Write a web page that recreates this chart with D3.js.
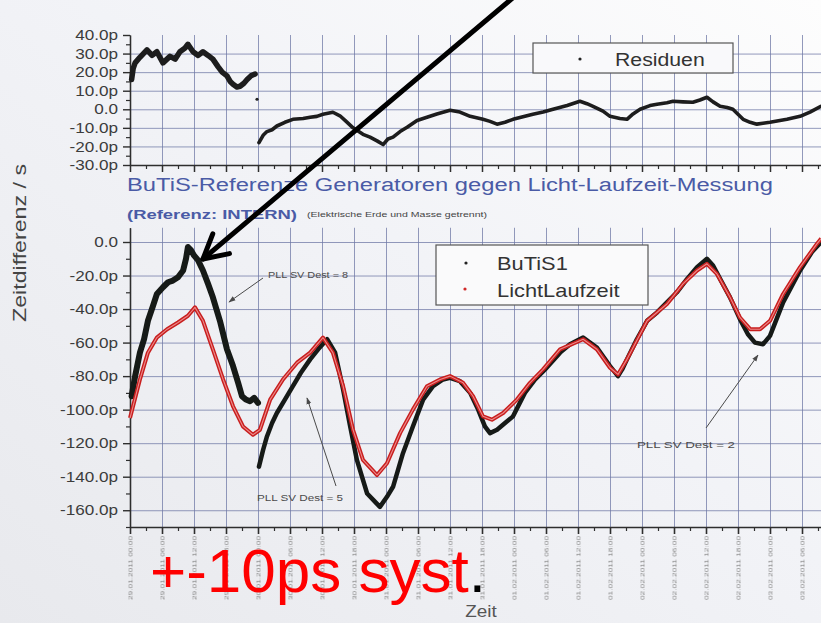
<!DOCTYPE html>
<html>
<head>
<meta charset="utf-8">
<script src="https://cdn.jsdelivr.net/npm/d3@7"></script>
<style>
  html, body { margin: 0; padding: 0; background: #fff; }
  svg { display: block; font-family: "Liberation Sans", Arial, sans-serif; }
</style>
</head>
<body>
<svg id="chart" width="821" height="623"></svg>
<script>
// ---- data (time in major grid divisions, values in ps) ----
const timeLabels = [
  "29.01.2011 00:00", "29.01.2011 06:00", "29.01.2011 12:00", "29.01.2011 18:00",
  "30.01.2011 00:00", "30.01.2011 06:00", "30.01.2011 12:00", "30.01.2011 18:00",
  "31.01.2011 00:00", "31.01.2011 06:00", "31.01.2011 12:00", "31.01.2011 18:00",
  "01.02.2011 00:00", "01.02.2011 06:00", "01.02.2011 12:00", "01.02.2011 18:00",
  "02.02.2011 00:00", "02.02.2011 06:00", "02.02.2011 12:00", "02.02.2011 18:00",
  "03.02.2011 00:00", "03.02.2011 06:00"
];
const residTicks = [-30, -20, -10, 0, 10, 20, 30, 40];
const mainTicks = [0, -20, -40, -60, -80, -100, -120, -140, -160];

// BuTiS1, first run (PLL SV Dest = 8)
const butisTimeA = [0.05,0.16,0.31,0.44,0.56,0.72,0.84,1.03,1.19,1.34,1.5,1.66,1.75,1.81,1.91,2.0,2.13,2.28,2.44,2.59,2.81,3.03,3.22,3.38,3.5,3.62,3.75,3.88,4.0];
const butisValueA = [-92,-80,-66,-58,-47,-38,-31,-27,-24,-23,-21,-17,-10,-3,-5,-8,-11,-17,-25,-33,-47,-64,-74,-84,-92,-94,-95,-93,-96];
// BuTiS1, after the PLL change
const butisTimeB = [4.03,4.16,4.28,4.44,4.59,4.84,5.09,5.34,5.63,5.88,6.16,6.41,6.66,6.88,7.09,7.41,7.66,7.81,8.03,8.22,8.53,8.84,9.16,9.47,9.78,10.0,10.31,10.63,10.88,11.09,11.25,11.47,11.72,11.97,12.34,12.66,12.97,13.44,13.75,14.16,14.59,15.0,15.25,15.38,15.53,15.84,16.16,16.47,16.78,17.09,17.41,17.72,18.03,18.22,18.44,18.75,19.06,19.31,19.53,19.78,20.0,20.41,20.94,21.31,21.6];
const butisValueB = [-134,-124,-116,-108,-102,-94,-86,-78,-70,-64,-58,-66,-88,-110,-130,-150,-155,-158,-152,-146,-126,-110,-94,-86,-82,-81,-83,-90,-100,-110,-114,-112,-108,-104,-90,-82,-76,-66,-61,-57,-63,-74,-80,-76,-70,-58,-47,-42,-36,-30,-22,-15,-10,-14,-22,-33,-46,-55,-60,-61,-56,-36,-17,-6,0];

// LichtLaufzeit
const lichtTime = [0,0.31,0.56,0.84,1.16,1.5,1.81,2.03,2.28,2.59,2.91,3.22,3.53,3.84,4.06,4.38,4.78,5.22,5.63,6.03,6.34,6.66,6.97,7.28,7.72,8.03,8.44,8.84,9.28,9.69,10.0,10.41,10.72,11.03,11.31,11.66,12.09,12.5,12.91,13.44,14.16,14.59,15.0,15.25,15.53,16.16,16.78,17.28,17.72,18.03,18.34,18.75,19.06,19.38,19.69,20.0,20.41,20.94,21.47,21.6];
const lichtValue = [-105,-82,-66,-57,-52,-48,-44,-39,-47,-64,-82,-98,-110,-115,-112,-94,-82,-72,-66,-57,-66,-86,-112,-130,-139,-132,-114,-100,-86,-82,-80,-84,-92,-104,-106,-102,-94,-84,-76,-64,-58,-64,-75,-79,-70,-47,-37,-25,-17,-13,-19,-33,-45,-52,-52,-47,-31,-15,-1,2];

// Residuen
const residTimeA = [0.05,0.1,0.16,0.31,0.53,0.69,0.84,1.03,1.25,1.41,1.56,1.72,1.81,1.97,2.13,2.28,2.44,2.59,2.75,2.88,3.03,3.13,3.22,3.34,3.44,3.56,3.66,3.78,3.91];
const residValueA = [16,22,25,28,32,29,31,25,28.5,27,31,33,35,31,29,31,29,27,23,20,18,15,13.5,12,12.4,14,16,18,19];
const residOutlierTime = [3.97];
const residOutlierValue = [5.4];
const residTimeB = [4.03,4.16,4.28,4.44,4.59,4.84,5.09,5.41,5.63,5.84,6.03,6.34,6.56,6.72,6.97,7.28,7.5,7.72,7.91,8.06,8.22,8.44,8.66,8.97,9.28,9.59,10.0,10.31,10.63,11.03,11.25,11.47,11.72,11.97,12.28,12.59,12.91,13.22,13.66,14.06,14.28,14.47,14.78,15.0,15.31,15.53,15.72,15.94,16.25,16.47,16.78,16.97,17.28,17.59,17.81,18.03,18.22,18.44,18.66,18.84,19.16,19.38,19.59,19.78,20.0,20.31,20.53,20.94,21.25,21.59];
const residValueB = [-18,-14,-12,-11,-9,-7,-5.4,-5,-4.3,-3.8,-2.7,-1.6,-3.5,-6,-10,-13.5,-15,-17,-19,-16,-15,-12,-9.7,-6,-4.3,-2.5,-0.5,-1.5,-3.8,-5.4,-6.5,-8,-7,-5.4,-4,-2.7,-1.5,0,2,4.3,3,1.6,-1,-3.8,-5,-5.4,-2.5,0,2,2.7,3.5,4.3,4,3.8,5,6.5,4,1.6,1,0,-5.4,-7,-8,-7.5,-7,-6,-5.4,-3.8,-1.5,1.6];

// ---- setup ----
const svg = d3.select("#chart");
const W = 821, H = 623;
const GRID = "#6f78a6", AXIS = "#2e2e2e", LABEL = "#3c3c3c";

const defs = svg.append("defs");
const bg = defs.append("linearGradient").attr("id", "bg")
  .attr("x1", 0).attr("y1", 1).attr("x2", 1).attr("y2", 0);
bg.append("stop").attr("offset", "0%").attr("stop-color", "#e8e9ed");
bg.append("stop").attr("offset", "55%").attr("stop-color", "#f2f3f7");
bg.append("stop").attr("offset", "100%").attr("stop-color", "#fdfdfd");
defs.append("filter").attr("id", "smudge")
  .append("feGaussianBlur").attr("stdDeviation", 0.55);
defs.append("marker").attr("id", "thinHead")
  .attr("viewBox", "0 0 10 10").attr("refX", 9).attr("refY", 5)
  .attr("markerWidth", 7).attr("markerHeight", 7).attr("orient", "auto")
  .append("path").attr("d", "M0,1.5 L10,5 L0,8.5 Z").attr("fill", "#4a4a4a");

svg.append("rect").attr("width", W).attr("height", H).attr("fill", "url(#bg)");

// stretch text horizontally a little (wide chart lettering)
function widen(sel, k) {
  sel.each(function () {
    const w = this.getComputedTextLength();
    this.setAttribute("textLength", w * k);
    this.setAttribute("lengthAdjust", "spacingAndGlyphs");
  });
}

const x = d3.scaleLinear().domain([0, 22]).range([130, 834]);
const yTop = d3.scaleLinear().domain([-30, 40]).range([165, 35]);
const yMain = d3.scaleLinear().domain([-170, 8.5]).range([527, 527 - 178.5 * (285 / 170)]);
const psFmt = v => v === 0 ? "0.0" : v.toFixed(1) + "p";
const majors = d3.range(0, 22);
const halves = d3.range(0.5, 22, 1);

function styleAxis(g, color, width) {
  g.selectAll("path.domain").attr("stroke", color).attr("stroke-width", width);
  g.selectAll(".tick line").attr("stroke", color).attr("stroke-width", width);
}

// ---- grids ----
function vGrid(yA, yB) {
  const g = svg.append("g").attr("transform", `translate(0,${yB})`)
    .call(d3.axisBottom(x).tickValues(d3.range(1, 22)).tickSize(-(yB - yA)).tickFormat(""));
  g.select(".domain").remove();
  g.selectAll(".tick line").attr("stroke", GRID).attr("stroke-width", 1).attr("opacity", 0.75);
}
function hGrid(scale, values) {
  const g = svg.append("g").attr("transform", "translate(130,0)")
    .call(d3.axisRight(scale).tickValues(values).tickSize(W - 130).tickFormat(""));
  g.select(".domain").remove();
  g.selectAll(".tick line").attr("stroke", GRID).attr("stroke-width", 1).attr("opacity", 0.75);
}
vGrid(35, 165);
hGrid(yTop, [-20, -10, 0, 10, 20, 30]);
vGrid(yMain(8.5), 527);
hGrid(yMain, mainTicks);

// ---- axes, residual panel ----
const gTopY = svg.append("g").attr("transform", "translate(130,0)")
  .call(d3.axisLeft(yTop).tickValues(residTicks).tickFormat(psFmt).tickSize(7).tickSizeOuter(0).tickPadding(5));
styleAxis(gTopY, AXIS, 1.4);
gTopY.selectAll("text").attr("font-size", 14.5).attr("fill", LABEL).attr("font-family", "Liberation Sans, Arial, sans-serif");
widen(gTopY.selectAll("text"), 1.18);
const gTopYm = svg.append("g").attr("transform", "translate(130,0)")
  .call(d3.axisLeft(yTop).tickValues([-25, -15, -5, 5, 15, 25, 35]).tickFormat("").tickSize(4).tickSizeOuter(0));
styleAxis(gTopYm, AXIS, 1.2);

const gTopX = svg.append("g").attr("transform", "translate(0,165)")
  .call(d3.axisBottom(x).tickValues(majors).tickFormat("").tickSize(7).tickSizeOuter(0));
styleAxis(gTopX, AXIS, 1.5);
const gTopXm = svg.append("g").attr("transform", "translate(0,165)")
  .call(d3.axisBottom(x).tickValues(halves).tickFormat("").tickSize(4).tickSizeOuter(0));
styleAxis(gTopXm, AXIS, 1.2);

// ---- axes, main panel ----
const gMainY = svg.append("g").attr("transform", "translate(130,0)")
  .call(d3.axisLeft(yMain).tickValues(mainTicks).tickFormat(psFmt).tickSize(7).tickSizeOuter(0).tickPadding(5));
styleAxis(gMainY, AXIS, 1.4);
gMainY.selectAll("text").attr("font-size", 14.5).attr("fill", LABEL).attr("font-family", "Liberation Sans, Arial, sans-serif");
widen(gMainY.selectAll("text"), 1.18);
const gMainYm = svg.append("g").attr("transform", "translate(130,0)")
  .call(d3.axisLeft(yMain).tickValues([-10, -30, -50, -70, -90, -110, -130, -150, -170]).tickFormat("").tickSize(4).tickSizeOuter(0));
styleAxis(gMainYm, AXIS, 1.2);

const gMainX = svg.append("g").attr("transform", "translate(0,527)")
  .call(d3.axisBottom(x).tickValues(majors).tickFormat((d, i) => timeLabels[i]).tickSize(7).tickSizeOuter(0));
styleAxis(gMainX, AXIS, 1.6);
gMainX.selectAll("text")
  .attr("transform", "rotate(-90)")
  .attr("text-anchor", "end")
  .attr("x", -9).attr("y", 0).attr("dy", "0.35em")
  .attr("font-size", 6).attr("fill", "#8e8e8e")
  .attr("textLength", 64).attr("lengthAdjust", "spacingAndGlyphs")
  .attr("filter", "url(#smudge)");
const gMainXm = svg.append("g").attr("transform", "translate(0,527)")
  .call(d3.axisBottom(x).tickValues(halves).tickFormat("").tickSize(4).tickSizeOuter(0));
styleAxis(gMainXm, AXIS, 1.2);

// ---- curves ----
const lineTop = d3.line().x(d => x(d[0])).y(d => yTop(d[1]));
const lineMain = d3.line().x(d => x(d[0])).y(d => yMain(d[1]));

svg.append("path").datum(d3.zip(residTimeA, residValueA)).attr("d", lineTop)
  .attr("fill", "none").attr("stroke", "#1d1d1d").attr("stroke-width", 5.5)
  .attr("stroke-linejoin", "round").attr("stroke-linecap", "round");
svg.append("path").datum(d3.zip(residTimeB, residValueB)).attr("d", lineTop)
  .attr("fill", "none").attr("stroke", "#1d1d1d").attr("stroke-width", 3.6)
  .attr("stroke-linejoin", "round").attr("stroke-linecap", "round");
svg.selectAll("circle.outlier").data(d3.zip(residOutlierTime, residOutlierValue)).join("circle")
  .attr("class", "outlier").attr("cx", d => x(d[0])).attr("cy", d => yTop(d[1]))
  .attr("r", 1.6).attr("fill", "#222");

svg.append("path").datum(d3.zip(butisTimeA, butisValueA)).attr("d", lineMain)
  .attr("fill", "none").attr("stroke", "#161a17").attr("stroke-width", 6)
  .attr("stroke-linejoin", "round").attr("stroke-linecap", "round");
svg.append("path").datum(d3.zip(butisTimeB, butisValueB)).attr("d", lineMain)
  .attr("fill", "none").attr("stroke", "#161a17").attr("stroke-width", 4.5)
  .attr("stroke-linejoin", "round").attr("stroke-linecap", "round");

const licht = d3.zip(lichtTime, lichtValue);
svg.append("path").datum(licht).attr("d", lineMain)
  .attr("fill", "none").attr("stroke", "#c81e1e").attr("stroke-width", 4)
  .attr("stroke-linejoin", "round");
svg.append("path").datum(licht).attr("d", lineMain)
  .attr("fill", "none").attr("stroke", "#ec8a8a").attr("stroke-width", 1.1)
  .attr("stroke-linejoin", "round");

// ---- legends ----
svg.append("rect").attr("x", 533).attr("y", 43).attr("width", 200).attr("height", 30)
  .attr("fill", "#f9f9fb").attr("stroke", "#555").attr("stroke-width", 1.2);
svg.append("circle").attr("cx", 580).attr("cy", 59).attr("r", 1.6).attr("fill", "#222");
const tRes = svg.append("text").attr("x", 615).attr("y", 66).attr("font-size", 18)
  .attr("fill", "#333").text("Residuen");
widen(tRes, 1.18);

svg.append("rect").attr("x", 436).attr("y", 245).attr("width", 212).attr("height", 60)
  .attr("fill", "#fafafb").attr("stroke", "#555").attr("stroke-width", 1.2);
svg.append("circle").attr("cx", 466).attr("cy", 263).attr("r", 1.6).attr("fill", "#222");
svg.append("circle").attr("cx", 465).attr("cy", 289).attr("r", 1.6).attr("fill", "#d02828");
const tB = svg.append("text").attr("x", 497).attr("y", 270).attr("font-size", 18.5)
  .attr("fill", "#333").text("BuTiS1");
const tL = svg.append("text").attr("x", 497).attr("y", 297).attr("font-size", 18.5)
  .attr("fill", "#333").text("LichtLaufzeit");
widen(tB, 1.18); widen(tL, 1.18);

// ---- titles and axis names ----
svg.append("text").attr("x", 127).attr("y", 191).attr("font-size", 18)
  .attr("fill", "#4a5ba6").attr("textLength", 646).attr("lengthAdjust", "spacingAndGlyphs")
  .text("BuTiS-Referenze Generatoren gegen Licht-Laufzeit-Messung");
svg.append("text").attr("x", 127).attr("y", 219).attr("font-size", 13).attr("font-weight", "bold")
  .attr("fill", "#4a5ba6").attr("textLength", 170).attr("lengthAdjust", "spacingAndGlyphs")
  .text("(Referenz: INTERN)");
svg.append("text").attr("x", 307).attr("y", 217).attr("font-size", 7)
  .attr("fill", "#444").attr("textLength", 180).attr("lengthAdjust", "spacingAndGlyphs")
  .text("(Elektrische Erde und Masse getrennt)");

svg.append("text").attr("transform", "translate(26,243) rotate(-90)")
  .attr("text-anchor", "middle").attr("font-size", 18).attr("fill", "#444")
  .attr("textLength", 158).attr("lengthAdjust", "spacingAndGlyphs")
  .text("Zeitdifferenz / s");
const tZ = svg.append("text").attr("x", 481).attr("y", 617).attr("text-anchor", "middle")
  .attr("font-size", 16).attr("fill", "#555").text("Zeit");
widen(tZ, 1.18);

// ---- PLL annotations ----
function note(label, tx, ty, len, x1, y1, x2, y2) {
  svg.append("line").attr("x1", x1).attr("y1", y1).attr("x2", x2).attr("y2", y2)
    .attr("stroke", "#4a4a4a").attr("stroke-width", 1).attr("marker-end", "url(#thinHead)");
  svg.append("text").attr("x", tx).attr("y", ty).attr("font-size", 8.5).attr("fill", "#4a4a4a")
    .attr("textLength", len).attr("lengthAdjust", "spacingAndGlyphs").text(label);
}
note("PLL SV Dest = 8", 268, 278, 80, 263, 278, 229, 302);
note("PLL SV Dest = 5", 257, 501, 86, 336, 486, 307, 398);
note("PLL SV Dest = 2", 637, 448, 98, 706, 428, 758, 355);

// ---- pointer to the first peak ----
const tip = [203, 259], tail = [515, -4];
svg.append("line").attr("x1", tail[0]).attr("y1", tail[1]).attr("x2", tip[0]).attr("y2", tip[1])
  .attr("stroke", "#000").attr("stroke-width", 5).attr("stroke-linecap", "round");
const ang = Math.atan2(tail[1] - tip[1], tail[0] - tip[0]);
const arm = 27, spread = 0.5;
const headPts = [
  [tip[0] + arm * Math.cos(ang - spread), tip[1] + arm * Math.sin(ang - spread)],
  tip,
  [tip[0] + arm * Math.cos(ang + spread), tip[1] + arm * Math.sin(ang + spread)]
];
svg.append("path").attr("d", d3.line()(headPts)).attr("fill", "none")
  .attr("stroke", "#000").attr("stroke-width", 5).attr("stroke-linecap", "round").attr("stroke-linejoin", "round");

// ---- systematic error note ----
const sys = svg.append("text").attr("x", 150).attr("y", 592).attr("font-size", 62)
  .attr("font-family", "Liberation Sans, Arial, sans-serif");
sys.append("tspan").attr("fill", "#ff0000").text("+-10ps syst");
sys.append("tspan").attr("fill", "#000").text(".");
</script>
</body>
</html>
